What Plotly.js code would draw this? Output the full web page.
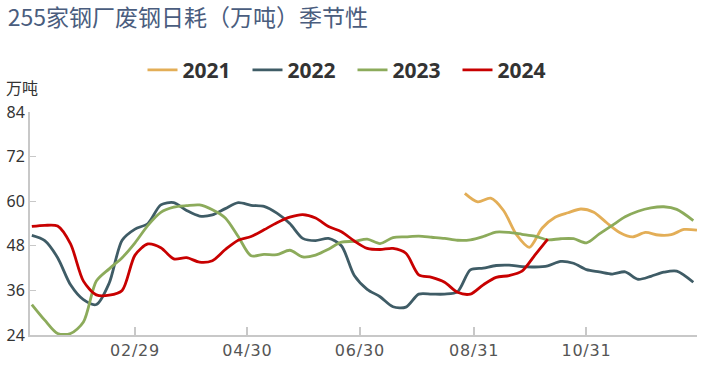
<!DOCTYPE html>
<html><head><meta charset="utf-8">
<script src="https://cdn.plot.ly/plotly-3.0.1.min.js"></script>
<style>html,body{margin:0;padding:0;background:#fff}#chart{width:705px;height:366px}
.xtick text{letter-spacing:0.8px}</style>
</head><body><div id="chart"></div>
<script>
const weekDates = ['2024-01-04','2024-01-11','2024-01-18','2024-01-25','2024-02-01','2024-02-08','2024-02-15','2024-02-22','2024-02-29','2024-03-07','2024-03-14','2024-03-21','2024-03-28','2024-04-04','2024-04-11','2024-04-18','2024-04-25','2024-05-02','2024-05-09','2024-05-16','2024-05-23','2024-05-30','2024-06-06','2024-06-13','2024-06-20','2024-06-27','2024-07-04','2024-07-11','2024-07-18','2024-07-25','2024-08-01','2024-08-08','2024-08-15','2024-08-22','2024-08-29','2024-09-05','2024-09-12','2024-09-19','2024-09-26','2024-10-03','2024-10-10','2024-10-17','2024-10-24','2024-10-31','2024-11-07','2024-11-14','2024-11-21','2024-11-28','2024-12-05','2024-12-12','2024-12-19','2024-12-28'];
const dates2021 = ['2024-08-26','2024-09-02','2024-09-09','2024-09-16','2024-09-23','2024-09-30','2024-10-07','2024-10-14','2024-10-21','2024-10-28','2024-11-04','2024-11-11','2024-11-18','2024-11-25','2024-12-02','2024-12-09','2024-12-16','2024-12-23','2024-12-30'];
const y2021 = [62.1,59.8,60.8,57.5,51.0,47.6,52.8,55.7,56.9,57.9,57.0,54.2,51.6,50.4,51.6,50.9,51.0,52.4,52.2];
const y2022 = [50.8,49.4,44.8,37.5,33.5,32.2,38.0,49.5,52.5,54.0,59.0,59.6,57.5,56.0,56.3,58.0,59.6,58.9,58.6,56.8,54.0,50.0,49.4,50.0,48.0,40.0,36.3,34.3,31.6,31.5,35.0,35.0,35.0,35.6,41.5,42.0,42.7,42.8,42.4,42.3,42.6,43.8,43.3,41.6,41.0,40.4,41.0,39.0,39.8,40.9,41.2,38.2];
const y2023 = [32.2,28.0,24.4,24.4,27.5,38.5,41.8,44.8,48.8,53.5,57.0,58.4,58.8,59.0,57.7,55.5,50.5,45.3,45.7,45.6,46.8,45.0,45.5,47.1,49.0,49.2,49.8,48.6,50.2,50.4,50.6,50.3,50.0,49.5,49.6,50.5,51.7,51.6,51.1,50.6,49.6,49.9,49.9,48.8,51.2,53.5,55.8,57.3,58.2,58.5,57.8,54.8];
const y2024 = [53.2,53.5,53.3,48.5,38.5,34.8,34.7,36.0,45.5,48.5,47.5,44.5,44.8,43.6,44.0,47.0,49.5,50.5,52.3,54.2,55.7,56.4,55.5,53.2,51.8,49.3,47.3,47.0,47.3,46.0,40.2,39.5,38.2,35.5,35.0,37.5,39.5,40.0,41.2,45.5,49.8];
const seriesNames = ['2021','2022','2023','2024'];
const seriesColors = ['#E3AE57','#3F5C66','#8CAB5B','#C80000'];
const tickDates = ['2024-02-29','2024-04-30','2024-06-30','2024-08-31','2024-10-31'];
const tickLabels = ['02/29','04/30','06/30','08/31','10/31'];
const yTicks = [24,36,48,60,72,84];

const xs = [dates2021, weekDates, weekDates, weekDates.slice(0, y2024.length)];
const ys = [y2021, y2022, y2023, y2024];
const traces = seriesNames.map((n,i)=>({
  x: xs[i], y: ys[i], name: n, type:'scatter', mode:'lines',
  line:{color:seriesColors[i], width:2.8, shape:'spline', smoothing:0.8},
  hoverinfo:'skip'
}));

const layout = {
  width:705, height:366,
  margin:{l:30, r:8, t:112, b:31},
  paper_bgcolor:'#fff', plot_bgcolor:'#fff',
  font:{family:'"Noto Sans", "Noto Sans CJK SC", sans-serif', color:'#333'},
  title:{text:'255家钢厂废钢日耗（万吨）季节性', x:0.011, xanchor:'left', xref:'container', y:0.95, yref:'container', yanchor:'middle',
    font:{family:'"Noto Sans CJK SC", sans-serif', size:23, color:'#4A5D7E'}},
  showlegend:true,
  legend:{orientation:'h', x:0.5, xanchor:'center', xref:'container', y:0.808, yref:'container', yanchor:'middle',
    font:{size:21, color:'#333', family:'"Open Sans", sans-serif', weight:'bold'}, itemwidth:30, traceorder:'normal',
    entrywidth:60, entrywidthmode:'pixels'},
  xaxis:{type:'date', range:['2024-01-03','2024-12-30'], tickvals:tickDates, ticktext:tickLabels,
    showgrid:false, zeroline:false, showline:true, linecolor:'#C8C8C8', linewidth:2,
    ticks:'inside', ticklen:8, tickcolor:'#C8C8C8', tickwidth:2,
    tickfont:{size:16, color:'#555', family:'"DejaVu Sans", sans-serif'}, fixedrange:true},
  yaxis:{range:[24,84], tickvals:yTicks, showgrid:false, zeroline:false, showline:true, linecolor:'#C8C8C8', linewidth:2,
    ticks:'inside', ticklen:6, tickcolor:'#C8C8C8', tickwidth:1,
    tickfont:{size:16, color:'#333', family:'"Noto Sans", sans-serif'}, fixedrange:true},
  annotations:[{text:'万吨', xref:'paper', yref:'paper', x:-0.039, xanchor:'left', y:1.11, yanchor:'middle', showarrow:false,
    font:{size:16, color:'#333', family:'"Noto Sans CJK SC", sans-serif'}}]
};
Plotly.newPlot('chart', traces, layout, {displayModeBar:false, staticPlot:true});
</script></body></html>
